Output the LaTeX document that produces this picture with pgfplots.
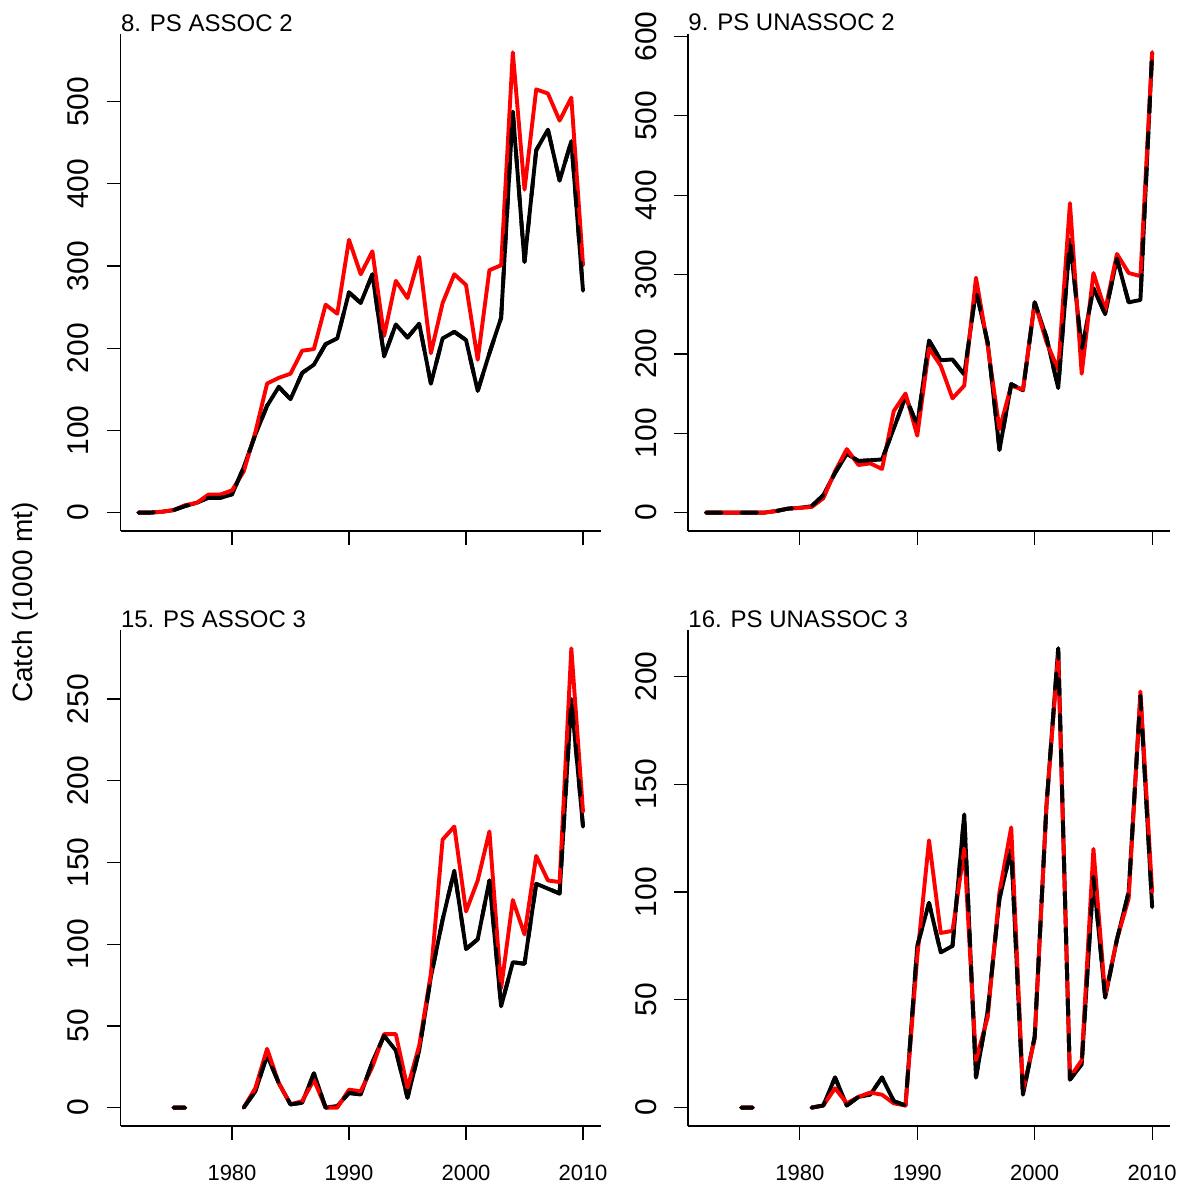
\documentclass[border=0pt]{standalone}
\usepackage{fontspec}
\setmainfont{Liberation Sans}
\usepackage{pgfplots}
\usepackage{pgfplotstable}
\pgfplotsset{compat=1.18}

\pgfplotstableread{
year blk red
1972 0 0
1973 0 0
1974 1 1
1975 3 3
1976 8 9
1977 12 12
1978 18 22
1979 18 22
1980 22 27
1981 55 50
1982 95 98
1983 130 157
1984 153 164
1985 138 169
1986 170 197
1987 180 199
1988 205 253
1989 212 242
1990 268 332
1991 255 290
1992 290 318
1993 190 215
1994 229 282
1995 213 261
1996 230 311
1997 157 194
1998 212 255
1999 220 290
2000 210 277
2001 148 186
2002 194 295
2003 237 301
2004 488 560
2005 305 393
2006 441 515
2007 466 510
2008 404 477
2009 452 505
2010 270 301
}\tabA

\pgfplotstableread{
year blk red
1972 0 0
1973 0 0
1974 0 0
1975 0 0
1976 0 0
1977 0 0
1978 2 2
1979 5 5
1980 6 6
1981 8 7
1982 22 18
1983 50 52
1984 74 80
1985 65 60
1986 66 62
1987 67 55
1988 106 128
1989 146 150
1990 110 97
1991 217 207
1992 192 185
1993 193 144
1994 174 160
1995 280 296
1996 214 210
1997 79 105
1998 162 160
1999 154 155
2000 265 265
2001 221 215
2002 157 180
2003 344 390
2004 205 175
2005 283 302
2006 250 255
2007 320 326
2008 265 302
2009 268 298
2010 580 580
}\tabB

\pgfplotstableread{
year blk red
1975 0 0
1976 0 0
1977 nan nan
1981 0 0
1982 10 12
1983 32 36
1984 15 15
1985 2 2
1986 3 4
1987 21 17
1988 0 0
1989 1 0
1990 9 11
1991 8 10
1992 28 25
1993 44 45
1994 35 45
1995 6 12
1996 35 38
1997 80 82
1998 115 164
1999 145 172
2000 97 120
2001 103 139
2002 139 169
2003 62 73
2004 89 127
2005 88 106
2006 137 154
2007 134 139
2008 131 138
2009 250 281
2010 172 181
}\tabC

\pgfplotstableread{
year blk red
1975 0 0
1976 0 0
1977 nan nan
1981 0 0
1982 1 1
1983 14 9
1984 1 2
1985 5 5
1986 6 7
1987 14 6
1988 3 2
1989 1 1
1990 75 70
1991 95 124
1992 72 81
1993 75 82
1994 136 120
1995 14 22
1996 45 42
1997 97 100
1998 120 130
1999 6 8
2000 33 32
2001 140 140
2002 213 210
2003 13 14
2004 20 22
2005 107 120
2006 51 52
2007 78 78
2008 100 97
2009 191 193
2010 93 100
}\tabD

\pgfplotsset{
  rpanel/.style={
    scale only axis,
    anchor=south west,
    xmin=1970.48, xmax=2011.52,
    axis x line*=bottom, axis y line*=left,
    axis line style={line width=0.6pt, -},
    tick style={line width=0.6pt, black},
    tick align=outside,
    major tick length=7pt,
    xtick={1980,1990,2000,2010},
    xticklabels={1980,1990,2000,2010},
    /pgf/number format/assume math mode=true,
    /pgf/number format/1000 sep={},
    yticklabel style={xshift=-9pt, rotate=90, anchor=base, inner sep=0pt, font=\fontsize{15}{18}\selectfont},
    xticklabel style={yshift=-20pt, anchor=base, inner sep=0pt, font=\fontsize{11}{13}\selectfont},
    unbounded coords=jump,
    clip=false,
  },
  blkl/.style={black, line width=1.95pt, line cap=round, line join=round},
  redl/.style={red, line width=1.95pt, line cap=round, line join=round},
  dashl/.style={black, line width=1.95pt, line cap=round, line join=round, dash pattern=on 7.8pt off 10pt},
}

\newcommand{\ptitle}[1]{\node[anchor=base west, inner sep=0pt, font=\fontsize{12}{14}\selectfont] at (rel axis cs:0,1) [yshift=1.5pt] {#1};}

\begin{document}
\begin{tikzpicture}
\useasboundingbox (0,0) rectangle (593pt,-593.5pt);

\begin{axis}[rpanel, at={(60.3pt,-265.5pt)}, width=240.1pt, height=248.5pt,
  ymin=-22.4, ymax=582.4, ytick={0,100,200,300,400,500}, xticklabels={}]
  \addplot[blkl] table[x=year,y=blk] {\tabA};
  \addplot[redl] table[x=year,y=red] {\tabA};
  \addplot[dashl] table[x=year,y=blk] {\tabA};
  \ptitle{8. PS ASSOC 2}
\end{axis}

\begin{axis}[rpanel, at={(344pt,-265.5pt)}, width=241pt, height=248.5pt,
  ymin=-23.2, ymax=603.2, ytick={0,100,200,300,400,500,600}, xticklabels={}]
  \addplot[blkl] table[x=year,y=blk] {\tabB};
  \addplot[redl] table[x=year,y=red] {\tabB};
  \addplot[dashl] table[x=year,y=blk] {\tabB};
  \ptitle{9. PS UNASSOC 2}
\end{axis}

\begin{axis}[rpanel, at={(60.3pt,-563pt)}, width=240.1pt, height=248pt,
  ymin=-11.24, ymax=292.24, ytick={0,50,100,150,200,250}]
  \addplot[blkl] table[x=year,y=blk] {\tabC};
  \addplot[redl] table[x=year,y=red] {\tabC};
  \addplot[dashl] table[x=year,y=blk] {\tabC};
  \ptitle{15. PS ASSOC 3}
\end{axis}

\begin{axis}[rpanel, at={(344pt,-563pt)}, width=241pt, height=248pt,
  ymin=-8.52, ymax=221.52, ytick={0,50,100,150,200}]
  \addplot[blkl] table[x=year,y=blk] {\tabD};
  \addplot[redl] table[x=year,y=red] {\tabD};
  \addplot[dashl] table[x=year,y=blk] {\tabD};
  \ptitle{16. PS UNASSOC 3}
\end{axis}

\node[rotate=90, anchor=base, inner sep=0pt, font=\fontsize{14}{16}\selectfont] at (16.3pt,-301.25pt) {Catch (1000 mt)};
\end{tikzpicture}
\end{document}
